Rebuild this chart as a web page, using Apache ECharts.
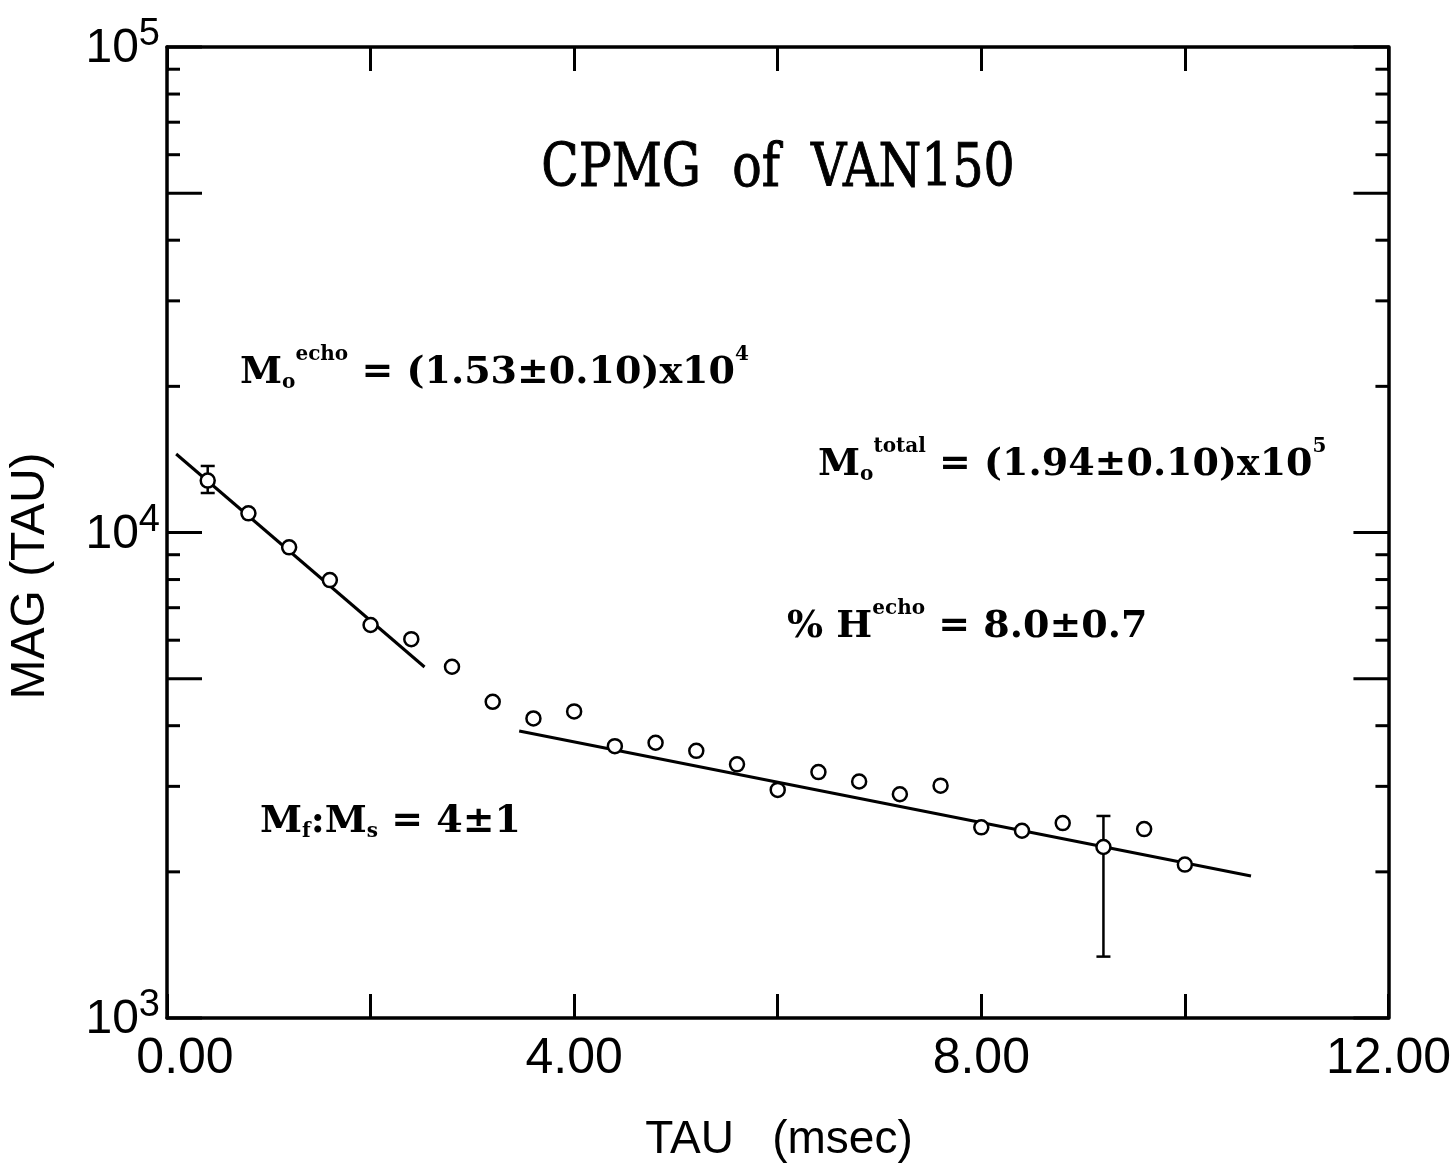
<!DOCTYPE html>
<html>
<head>
<meta charset="utf-8">
<script src="https://cdn.jsdelivr.net/npm/echarts@6/dist/echarts.min.js"></script>
<style>html,body{margin:0;padding:0;background:#fff}#c{width:1454px;height:1165px}</style>
</head>
<body>
<div id="c"></div>
<script>
// ---- data ----
const tau = [0.4, 0.8, 1.2, 1.6, 2.0, 2.4, 2.8, 3.2, 3.6, 4.0, 4.4, 4.8, 5.2, 5.6, 6.0, 6.4, 6.8, 7.2, 7.6, 8.0, 8.4, 8.8, 9.2, 9.6, 10.0];
const mag = [12790, 10950, 9320, 7980, 6450, 6030, 5290, 4480, 4140, 4280, 3630, 3690, 3550, 3330, 2950, 3210, 3070, 2890, 3010, 2470, 2430, 2520, 2250, 2450, 2070];
const errTau = [0.4, 9.2];
const errLow = [12060, 1338];
const errHigh = [13710, 2607];
const fastFitTau = [0.09, 2.53];
const fastFitMag = [14510, 5284];
const slowFitTau = [3.46, 10.65];
const slowFitMag = [3900, 1961];
const xTickLabels = ['0.00', '4.00', '8.00', '12.00'];
const yMajorTicks = [1000, 5000, 10000, 50000, 100000];
const yMinorTicks = [2000, 3000, 4000, 6000, 7000, 8000, 9000, 20000, 30000, 40000, 60000, 70000, 80000, 90000];

const chart = echarts.init(document.getElementById('c'), null, {renderer: 'canvas'});

const SANS = '"Liberation Sans", Arial, sans-serif';
const SERIF = '"DejaVu Serif", serif';

function richStyles() {
  return {
    m:   {fontFamily: SERIF, fontWeight: 'bold', fontSize: 38, lineHeight: 38, padding: [21, 0, 21, 0], fill: '#000'},
    sub: {fontFamily: SERIF, fontWeight: 'bold', fontSize: 20, lineHeight: 20, padding: [40, 0, 20, 0], fill: '#000'},
    sup: {fontFamily: SERIF, fontWeight: 'bold', fontSize: 20, lineHeight: 20, padding: [12, 0, 48, 0], fill: '#000'}
  };
}
function annot(x, baseline, text) {
  return {
    type: 'text', x: x, y: baseline - 11, z: 100,
    style: {text: text, rich: richStyles(), align: 'left', verticalAlign: 'middle', textAlign: 'left', textVerticalAlign: 'middle', fill: '#000'}
  };
}

const tickData = yMajorTicks.concat(yMinorTicks).map(v => [0, v]);
const majorSet = new Set(yMajorTicks);

const option = {
  backgroundColor: '#fff',
  animation: false,
  grid: {left: 167, right: 62, top: 47, bottom: 147, containLabel: false},
  xAxis: [{
    type: 'value', min: 0, max: 12, interval: 2, position: 'bottom',
    axisLine: {show: true, onZero: false, lineStyle: {color: '#000', width: 3.5}},
    axisTick: {show: true, inside: true, length: 24, lineStyle: {color: '#000', width: 3}},
    splitLine: {show: false},
    axisLabel: {
      margin: 16, color: '#000', fontFamily: SANS, fontSize: 50, lineHeight: 50,
      formatter: function (v) {
        if (v % 4 !== 0) return '';
        const t = xTickLabels[v / 4];
        return v === 0 ? '{f|' + t + '}' : t;
      },
      rich: {f: {fontFamily: SANS, fontSize: 50, lineHeight: 50, color: '#000', padding: [0, 0, 0, 36]}}
    }
  }, {
    type: 'value', min: 0, max: 12, interval: 2, position: 'top',
    axisLine: {show: true, onZero: false, lineStyle: {color: '#000', width: 3.5}},
    axisTick: {show: true, inside: true, length: 24, lineStyle: {color: '#000', width: 3}},
    axisLabel: {show: false}, splitLine: {show: false}
  }],
  yAxis: [{
    type: 'log', logBase: 10, min: 1000, max: 100000, position: 'left',
    axisLine: {show: true, onZero: false, lineStyle: {color: '#000', width: 3.5}},
    axisTick: {show: false}, minorTick: {show: false}, splitLine: {show: false}, minorSplitLine: {show: false},
    axisLabel: {
      margin: 7, color: '#000',
      formatter: function (v) { return '{b|10}{s|' + Math.round(Math.log10(v)) + '}'; },
      rich: {
        b: {fontFamily: SANS, fontSize: 48, lineHeight: 48, padding: [10, 0, 6, 0], color: '#000'},
        s: {fontFamily: SANS, fontSize: 38, lineHeight: 38, padding: [1, 0, 25, 0], color: '#000'}
      }
    }
  }, {
    type: 'log', logBase: 10, min: 1000, max: 100000, position: 'right',
    axisLine: {show: true, onZero: false, lineStyle: {color: '#000', width: 3.5}},
    axisTick: {show: false}, axisLabel: {show: false}, splitLine: {show: false}
  }],
  series: [{
    type: 'custom', name: 'yticks', clip: false, silent: true, z: 3,
    data: tickData, encode: {x: 0, y: 1},
    renderItem: function (params, api) {
      const v = api.value(1);
      const len = majorSet.has(v) ? 35 : 13;
      const l = api.coord([0, v]);
      const r = api.coord([12, v]);
      const st = {stroke: '#000', lineWidth: 3};
      return {type: 'group', children: [
        {type: 'line', shape: {x1: l[0], y1: l[1], x2: l[0] + len, y2: l[1]}, style: st},
        {type: 'line', shape: {x1: r[0], y1: r[1], x2: r[0] - len, y2: r[1]}, style: st}
      ]};
    }
  }, {
    type: 'line', name: 'fast fit', data: fastFitTau.map((t, i) => [t, fastFitMag[i]]),
    showSymbol: false, lineStyle: {color: '#000', width: 3}, z: 2, clip: false
  }, {
    type: 'line', name: 'slow fit', data: slowFitTau.map((t, i) => [t, slowFitMag[i]]),
    showSymbol: false, lineStyle: {color: '#000', width: 3}, z: 2, clip: false
  }, {
    type: 'custom', name: 'error', clip: false, z: 4,
    data: errTau.map((t, i) => [t, errLow[i], errHigh[i]]),
    encode: {x: 0, y: [1, 2]},
    renderItem: function (params, api) {
      const x = api.value(0);
      const lo = api.coord([x, api.value(1)]);
      const hi = api.coord([x, api.value(2)]);
      const w = 7;
      const st = {stroke: '#000', lineWidth: 2.5};
      return {type: 'group', children: [
        {type: 'line', shape: {x1: lo[0], y1: lo[1], x2: hi[0], y2: hi[1]}, style: st},
        {type: 'line', shape: {x1: lo[0] - w, y1: lo[1], x2: lo[0] + w, y2: lo[1]}, style: st},
        {type: 'line', shape: {x1: hi[0] - w, y1: hi[1], x2: hi[0] + w, y2: hi[1]}, style: st}
      ]};
    }
  }, {
    type: 'scatter', name: 'MAG', data: tau.map((t, i) => [t, mag[i]]),
    symbol: 'circle', symbolSize: 14, z: 6,
    itemStyle: {color: '#fff', borderColor: '#000', borderWidth: 2.5, opacity: 1}
  }],
  graphic: [
    {type: 'text', x: 778, y: 170, z: 100, scaleX: 1, scaleY: 1.23,
     style: {text: 'CPMG  of  VAN150', font: 'normal 49px "DejaVu Serif", serif', fill: '#000',
             stroke: '#000', lineWidth: 0.8,
             align: 'center', verticalAlign: 'middle', textAlign: 'center', textVerticalAlign: 'middle'}},
    {type: 'text', x: 31, y: 576, rotation: Math.PI / 2, z: 100,
     style: {text: 'MAG (TAU)', font: 'normal 48px "Liberation Sans", sans-serif', fill: '#000',
             align: 'center', verticalAlign: 'middle', textAlign: 'center', textVerticalAlign: 'middle'}},
    {type: 'text', x: 779, y: 1140, z: 100,
     style: {text: 'TAU   (msec)', font: 'normal 46px "Liberation Sans", sans-serif', fill: '#000',
             align: 'center', verticalAlign: 'middle', textAlign: 'center', textVerticalAlign: 'middle'}},
    annot(240, 384, '{m|M}{sub|o}{sup|echo}{m| = (1.53±0.10)x10}{sup|4}'),
    annot(818, 476, '{m|M}{sub|o}{sup|total}{m| = (1.94±0.10)x10}{sup|5}'),
    annot(787, 638, '{m|% H}{sup|echo}{m| = 8.0±0.7}'),
    annot(260, 833, '{m|M}{sub|f}{m|:M}{sub|s}{m| = 4±1}')
  ]
};
chart.setOption(option);
</script>
</body>
</html>
